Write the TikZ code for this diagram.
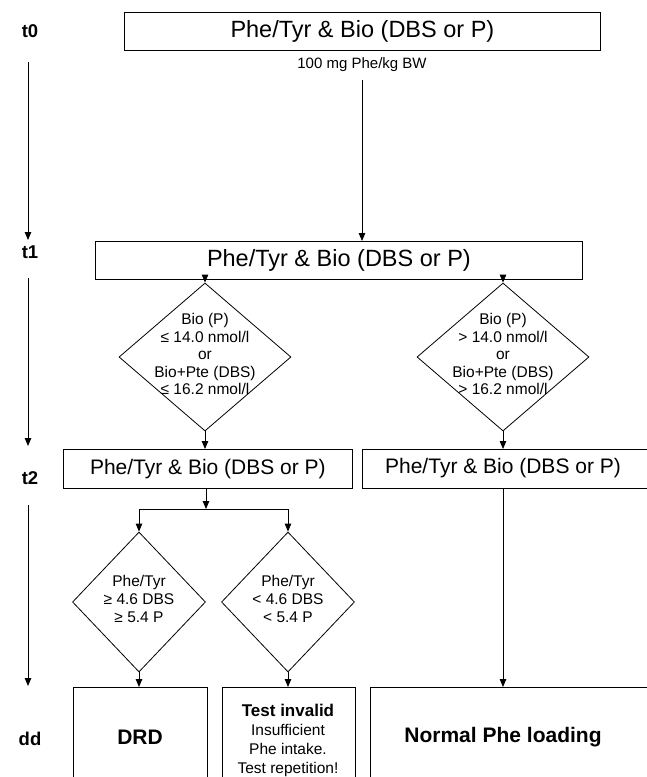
\documentclass[tikz,border=0pt]{standalone}
\usepackage{fontspec}
\setmainfont{Liberation Sans}
\usetikzlibrary{arrows.meta,shapes.geometric}
\begin{document}
\begin{tikzpicture}[x=1pt,y=-1pt,
  line width=0.8pt,
  box/.style={draw, inner sep=0pt, anchor=north west},
  huge/.style={font=\fontsize{23.5}{27}\selectfont},
  big/.style={font=\fontsize{21}{25}\selectfont},
  dtext/.style={font=\fontsize{15.5}{17.5}\selectfont, align=center, inner sep=0pt},
  dia/.style={draw, shape=diamond, inner sep=0pt, minimum width=#1},
  tlabel/.style={font=\fontsize{18.5}{20}\selectfont\bfseries},
  arr/.style={-{Triangle[length=8pt,width=6.5pt]}},
]
\clip (0,0) rectangle (647,777);
% time labels
\node[tlabel] (t0) at (30,31) {t0};
\node[tlabel] (t1) at (30,252) {t1};
\node[tlabel] (t2) at (30,478) {t2};
\node[tlabel] (dd) at (30,739) {dd};
\coordinate (a0s) at (28,62); \coordinate (a0e) at (28,240);
\coordinate (a1s) at (28,278); \coordinate (a1e) at (28,446);
\coordinate (a2s) at (28,505); \coordinate (a2e) at (28,686);
\draw[arr] (a0s) -- (a0e);
\draw[arr] (a1s) -- (a1e);
\draw[arr] (a2s) -- (a2e);
% t0
\node[box, huge, minimum width=476, minimum height=38] (b0) at (124,12) {Phe/Tyr \& Bio (DBS or P)};
\node[font=\fontsize{15}{17}\selectfont] (dose) at (362,65) {100 mg Phe/kg BW};
\coordinate (d0) at (362,80);
% t1
\node[box, huge, minimum width=487, minimum height=38] (b1) at (95,241) {Phe/Tyr \& Bio (DBS or P)};
\draw[arr] (d0) -- (d0 |- b1.north);
\node[dia=172, minimum height=148] (q1) at (205,357) {};
\node[dia=172, minimum height=148] (q2) at (503,357) {};
\node[dtext] (q1t) at (205,354) {Bio (P)\\≤ 14.0 nmol/l\\or\\Bio+Pte (DBS)\\≤ 16.2 nmol/l};
\node[dtext] (q2t) at (503,354) {Bio (P)\\> 14.0 nmol/l\\or\\Bio+Pte (DBS)\\> 16.2 nmol/l};
\draw[arr] (q1.north |- b1.south) -- (q1.north);
\draw[arr] (q2.north |- b1.south) -- (q2.north);
% t2
\node[box, big, minimum width=289, minimum height=39] (b2l) at (63,449) {Phe/Tyr \& Bio (DBS or P)};
\node[box, minimum width=300, minimum height=39] (b2r) at (362,449) {};
\node[big, inner sep=0pt] (b2rt) at (503,468.5) {Phe/Tyr \& Bio (DBS or P)};
\draw[arr] (q1.south) -- (q1.south |- b2l.north);
\draw[arr] (q2.south) -- (q2.south |- b2r.north);
\coordinate (j) at (206,509);
\draw[arr] (b2l.south -| j) -- (j);
\node[dia=133, minimum height=140] (r1) at (139,602) {};
\node[dia=133, minimum height=140] (r2) at (288,602) {};
\node[dtext, font=\fontsize{15.5}{18}\selectfont] (r1t) at (139,599) {Phe/Tyr\\≥ 4.6 DBS\\≥ 5.4 P};
\node[dtext, font=\fontsize{15.5}{18}\selectfont] (r2t) at (288,599) {Phe/Tyr\\< 4.6 DBS\\< 5.4 P};
\draw (r1.north |- j) -- (r2.north |- j);
\draw[arr] (r1.north |- j) -- (r1.north);
\draw[arr] (r2.north |- j) -- (r2.north);
% dd
\node[box, minimum width=134, minimum height=120] (c1) at (73,687) {};
\node[box, minimum width=133, minimum height=120] (c2) at (222,687) {};
\node[box, minimum width=300, minimum height=120] (c3) at (370,687) {};
\draw[arr] (r1.south) -- (r1.south |- c1.north);
\draw[arr] (r2.south) -- (r2.south |- c2.north);
\draw[arr] (b2r.south -| b2rt) -- (c3.north -| b2rt);
\node[font=\fontsize{21}{25}\selectfont\bfseries] (c1t) at (140,737) {DRD};
\node[align=center, font=\fontsize{15.5}{19}\selectfont, inner sep=0pt] (c2t) at (288,740) {{\fontsize{17}{19}\selectfont\bfseries Test invalid}\\Insufficient\\Phe intake.\\Test repetition!};
\node[font=\fontsize{21}{25}\selectfont\bfseries] (c3t) at (503,737) {Normal Phe loading};
\end{tikzpicture}
\end{document}
